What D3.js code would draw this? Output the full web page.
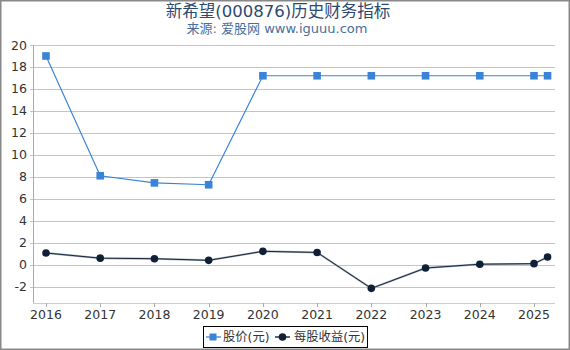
<!DOCTYPE html>
<html>
<head>
<meta charset="utf-8">
<script src="https://cdn.jsdelivr.net/npm/d3@7"></script>
<style>
  html, body { margin: 0; padding: 0; background: #fff; }
  svg { display: block; font-family: "DejaVu Sans", "Noto Sans CJK SC", sans-serif; }
</style>
</head>
<body>
<svg id="chart" width="570" height="350"></svg>
<script>
// 数据 (年份, 股价, 每股收益)
const years    = [2016, 2017, 2018, 2019, 2020, 2021, 2022, 2023, 2024, 2025, 2025.25];
const price    = [19.0, 8.1, 7.45, 7.28, 17.2, 17.2, 17.2, 17.2, 17.2, 17.2, 17.2];
const eps      = [1.07, 0.6, 0.55, 0.4, 1.22, 1.12, -2.15, -0.3, 0.05, 0.1, 0.7];
const xTicks   = [2016, 2017, 2018, 2019, 2020, 2021, 2022, 2023, 2024, 2025];
const yTicks   = [-2, 0, 2, 4, 6, 8, 10, 12, 14, 16, 18, 20];
const seriesNames = ['股价(元)', '每股收益(元)'];

const W = 570, H = 350;
const svg = d3.select('#chart');

// 外框
svg.append('rect')
  .attr('x', 0.5).attr('y', 0.5).attr('width', W - 1).attr('height', H - 1)
  .attr('fill', 'none').attr('stroke', '#888').attr('stroke-width', 2);

// 标题
svg.append('text')
  .attr('x', 278).attr('y', 17)
  .attr('text-anchor', 'middle')
  .attr('font-size', 16.5).attr('fill', '#2c4a70')
  .text('新希望(000876)历史财务指标');
svg.append('text')
  .attr('x', 277).attr('y', 33)
  .attr('text-anchor', 'middle')
  .attr('font-size', 13).attr('fill', '#4a6e9c')
  .text('来源: 爱股网 www.iguuu.com');

const x = d3.scaleLinear().domain([2016, 2025]).range([46, 534]);
const y = d3.scaleLinear().domain([-3.3, 20]).range([301, 45]);
const left = 33, right = 555, bottom = 303;

// 网格线
svg.append('g')
  .selectAll('line')
  .data(yTicks).join('line')
  .attr('x1', left - 3).attr('x2', right)
  .attr('y1', d => Math.round(y(d)) + 0.5).attr('y2', d => Math.round(y(d)) + 0.5)
  .attr('stroke', '#c4c4c4').attr('stroke-width', 1);

// Y 轴
svg.append('line')
  .attr('x1', left + 0.5).attr('x2', left + 0.5)
  .attr('y1', y(20)).attr('y2', bottom)
  .attr('stroke', '#aaa');
svg.append('g')
  .selectAll('text')
  .data(yTicks).join('text')
  .attr('x', 27).attr('y', d => y(d))
  .attr('text-anchor', 'end').attr('dominant-baseline', 'central')
  .attr('font-size', 12.5).attr('fill', '#333')
  .text(d => d);

// X 轴
svg.append('line')
  .attr('x1', left).attr('x2', right)
  .attr('y1', bottom + 0.5).attr('y2', bottom + 0.5)
  .attr('stroke', '#ccc');
svg.append('g')
  .selectAll('line')
  .data(xTicks).join('line')
  .attr('x1', d => Math.round(x(d)) + 0.5).attr('x2', d => Math.round(x(d)) + 0.5)
  .attr('y1', bottom).attr('y2', bottom + 4)
  .attr('stroke', '#aaa');
svg.append('g')
  .selectAll('text')
  .data(xTicks).join('text')
  .attr('x', d => x(d)).attr('y', 319)
  .attr('text-anchor', 'middle')
  .attr('font-size', 12.5).attr('fill', '#333')
  .text(d => d);

// 折线
const line = vals => d3.line()
  .x((d, i) => x(years[i]))
  .y(d => y(d))(vals);

svg.append('path')
  .attr('d', line(eps))
  .attr('fill', 'none').attr('stroke', '#a3adba').attr('stroke-width', 2);
svg.append('path')
  .attr('d', line(eps))
  .attr('fill', 'none').attr('stroke', '#16263d').attr('stroke-width', 1);
svg.append('g')
  .selectAll('circle')
  .data(eps).join('circle')
  .attr('cx', (d, i) => x(years[i])).attr('cy', d => y(d))
  .attr('r', 3.8).attr('fill', '#0f1f35');

svg.append('path')
  .attr('d', line(price))
  .attr('fill', 'none').attr('stroke', '#3a84d8').attr('stroke-width', 1.2);
svg.append('g')
  .selectAll('rect')
  .data(price).join('rect')
  .attr('x', (d, i) => x(years[i]) - 3.8).attr('y', d => y(d) - 3.8)
  .attr('width', 7.6).attr('height', 7.6)
  .attr('fill', '#3a84d8');

// 图例
const lg = svg.append('g');
lg.append('rect')
  .attr('x', 203.5).attr('y', 326.5).attr('width', 164).attr('height', 21)
  .attr('fill', '#fff').attr('stroke', '#000');
// 股价
lg.append('line').attr('x1', 206).attr('x2', 221).attr('y1', 337).attr('y2', 337)
  .attr('stroke', '#7fb0e8').attr('stroke-width', 2);
lg.append('rect').attr('x', 209.5).attr('y', 333.5).attr('width', 7).attr('height', 7)
  .attr('fill', '#3a84d8');
lg.append('text').attr('x', 223).attr('y', 337)
  .attr('dominant-baseline', 'central').attr('font-size', 12.3).attr('fill', '#333')
  .text(seriesNames[0]);
// 每股收益
lg.append('line').attr('x1', 275).attr('x2', 290).attr('y1', 337).attr('y2', 337)
  .attr('stroke', '#5a6576').attr('stroke-width', 2);
lg.append('circle').attr('cx', 282.5).attr('cy', 337).attr('r', 3.8)
  .attr('fill', '#0f1f35');
lg.append('text').attr('x', 294).attr('y', 337)
  .attr('dominant-baseline', 'central').attr('font-size', 12.3).attr('fill', '#333')
  .text(seriesNames[1]);
</script>
</body>
</html>
